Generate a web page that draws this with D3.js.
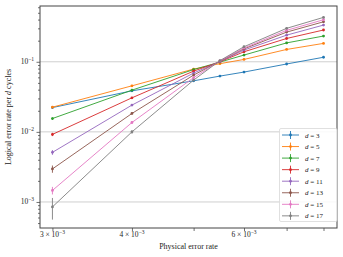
<!DOCTYPE html>
<html><head><meta charset="utf-8">
<script src="https://cdn.jsdelivr.net/npm/d3@7"></script>
<style>body{margin:0;background:#fff}svg{display:block}text{font-family:"Liberation Serif","DejaVu Serif",serif;fill:#222}</style>
</head><body><svg id="c" width="343" height="257"></svg>
<script>
const physRates = [0.003, 0.004, 0.005, 0.0055, 0.006, 0.007, 0.008];
const distances = [3, 5, 7, 9, 11, 13, 15, 17];
const rateD3  = [0.0222, 0.0385, 0.0535, 0.0625, 0.0713, 0.093, 0.116];
const rateD5  = [0.0225, 0.0454, 0.0787, 0.094, 0.108, 0.150, 0.183];
const rateD7  = [0.0155, 0.0394, 0.0774, 0.099, 0.1247, 0.186, 0.233];
const rateD9  = [0.0092, 0.0306, 0.0736, 0.100, 0.139, 0.215, 0.284];
const rateD11 = [0.0051, 0.0241, 0.069, 0.101, 0.147, 0.240, 0.334];
const rateD13 = [0.00296, 0.0183, 0.0646, 0.102, 0.153, 0.265, 0.372];
const rateD15 = [0.00146, 0.0136, 0.0594, 0.103, 0.157, 0.281, 0.398];
const rateD17 = [0.00085, 0.0100, 0.0548, 0.104, 0.164, 0.300, 0.430];
const errD3  = [0.0007, 0.0009, 0.0010, 0.0011, 0.0011, 0.0013, 0.0014];
const errD5  = [0.0007, 0.0010, 0.0012, 0.0013, 0.0014, 0.0016, 0.0017];
const errD7  = [0.0006, 0.0009, 0.0012, 0.0013, 0.0015, 0.0017, 0.0018];
const errD9  = [0.0005, 0.0008, 0.0012, 0.0013, 0.0015, 0.0018, 0.0019];
const errD11 = [0.0004, 0.0007, 0.0011, 0.0013, 0.0015, 0.0018, 0.0020];
const errD13 = [0.00035, 0.0007, 0.0011, 0.0013, 0.0016, 0.0019, 0.0020];
const errD15 = [0.00018, 0.0006, 0.0011, 0.0013, 0.0016, 0.0019, 0.0021];
const errD17 = [0.00029, 0.0006, 0.0010, 0.0013, 0.0016, 0.0019, 0.0021];
const colors = ["#1f77b4","#ff7f0e","#2ca02c","#d62728","#9467bd","#8c564b","#e377c2","#7f7f7f"];
const xTickVals = [0.003, 0.004, 0.005, 0.006, 0.007, 0.008];
const xTickLabels = {0.003:["3 × 10","−3"], 0.004:["4 × 10","−3"], 0.006:["6 × 10","−3"]};
const yMajor = [1e-3, 1e-2, 1e-1];
const yMajorLabels = ["−3", "−2", "−1"];

const rates = [rateD3, rateD5, rateD7, rateD9, rateD11, rateD13, rateD15, rateD17];
const errs = [errD3, errD5, errD7, errD9, errD11, errD13, errD15, errD17];
const series = distances.map((d, i) => ({d, color: colors[i],
  pts: physRates.map((p, j) => ({x: p, y: rates[i][j], e: errs[i][j]}))}));

const svg = d3.select("#c");
const L = 40, R = 337, T = 6, B = 228;
const x = d3.scaleLog().domain([0.002868, 0.00840]).range([L, R]);
const y = d3.scaleLog().domain([4.25e-4, 0.625]).range([B, T]);

// grid
svg.append("g").selectAll("line").data(yMajor).join("line")
  .attr("x1", L).attr("x2", R).attr("y1", d => y(d)).attr("y2", d => y(d))
  .attr("stroke", "#cfcfcf").attr("stroke-width", 1);

// y minor ticks
const yMinor = [];
for (let e = -4; e <= -1; e++) for (let m = 2; m <= 9; m++) { const v = m * Math.pow(10, e); if (v > 4.25e-4 && v < 0.625) yMinor.push(v); }
const yAxisG = svg.append("g").attr("transform", `translate(${L},0)`);
yAxisG.call(d3.axisLeft(y).tickValues(yMajor).tickFormat("").tickSize(3.5).tickSizeOuter(0));
yAxisG.append("g").call(d3.axisLeft(y).tickValues(yMinor).tickFormat("").tickSize(2).tickSizeOuter(0));
yAxisG.selectAll(".domain").remove();
yAxisG.selectAll("line").attr("stroke", "#333").attr("stroke-width", 0.7);
yMajor.forEach((v, i) => {
  const t = yAxisG.append("text").attr("x", -6).attr("y", y(v) + 2.5).attr("text-anchor", "end").attr("font-size", 7.5);
  t.append("tspan").text("10");
  t.append("tspan").attr("dy", -3).attr("font-size", 5.5).text(yMajorLabels[i]);
});

// x ticks
const xAxisG = svg.append("g").attr("transform", `translate(0,${B})`);
xAxisG.call(d3.axisBottom(x).tickValues(xTickVals).tickFormat("").tickSize(3).tickSizeOuter(0));
xAxisG.selectAll(".domain").remove();
xAxisG.selectAll("line").attr("stroke", "#333").attr("stroke-width", 0.7);
xTickVals.filter(v => xTickLabels[v]).forEach(v => {
  const t = xAxisG.append("text").attr("x", x(v)).attr("y", 9).attr("text-anchor", "middle").attr("font-size", 7.5);
  t.append("tspan").text(xTickLabels[v][0]);
  t.append("tspan").attr("dy", -3).attr("font-size", 5.5).text(xTickLabels[v][1]);
});

// spines
svg.append("rect").attr("x", L).attr("y", T).attr("width", R - L).attr("height", B - T)
  .attr("fill", "none").attr("stroke", "#444").attr("stroke-width", 1);

// series
const line = d3.line().x(d => x(d.x)).y(d => y(d.y));
const plot = svg.append("g");
series.forEach(s => {
  const g = plot.append("g");
  g.append("path").datum(s.pts).attr("d", line).attr("fill", "none").attr("stroke", s.color).attr("stroke-width", 0.9);
  g.selectAll("line.err").data(s.pts).join("line").attr("class", "err")
    .attr("x1", d => x(d.x)).attr("x2", d => x(d.x))
    .attr("y1", d => y(d.y + d.e)).attr("y2", d => y(Math.max(d.y - d.e, 1e-5)))
    .attr("stroke", s.color).attr("stroke-width", 0.9);
  g.selectAll("circle").data(s.pts).join("circle")
    .attr("cx", d => x(d.x)).attr("cy", d => y(d.y)).attr("r", 1.4).attr("fill", s.color);
});

// axis labels
svg.append("text").attr("x", (L + R) / 2).attr("y", 249).attr("text-anchor", "middle").attr("font-size", 8).text("Physical error rate");
const yl = svg.append("text").attr("transform", `translate(11,${(T + B) / 2}) rotate(-90)`).attr("text-anchor", "middle").attr("font-size", 8);
yl.append("tspan").text("Logical error rate per ");
yl.append("tspan").attr("font-style", "italic").text("d");
yl.append("tspan").text(" cycles");

// legend
const lg = svg.append("g");
const lx = 279.5, ly = 128.5, lw = 57.5, lh = 93;
lg.append("rect").attr("x", lx).attr("y", ly).attr("width", lw).attr("height", lh).attr("rx", 1.5)
  .attr("fill", "#fff").attr("fill-opacity", 0.85).attr("stroke", "#d8d8d8").attr("stroke-width", 0.8);
series.forEach((s, i) => {
  const cy = 135 + i * 11.55;
  lg.append("line").attr("x1", 282).attr("x2", 299).attr("y1", cy).attr("y2", cy).attr("stroke", s.color).attr("stroke-width", 0.9);
  lg.append("line").attr("x1", 290.5).attr("x2", 290.5).attr("y1", cy - 4).attr("y2", cy + 4).attr("stroke", s.color).attr("stroke-width", 0.9);
  lg.append("circle").attr("cx", 290.5).attr("cy", cy).attr("r", 1.4).attr("fill", s.color);
  const t = lg.append("text").attr("x", 305).attr("y", cy + 2.5).attr("font-size", 7);
  t.append("tspan").attr("font-style", "italic").text("d");
  t.append("tspan").text(" = " + s.d);
});
</script></body></html>
